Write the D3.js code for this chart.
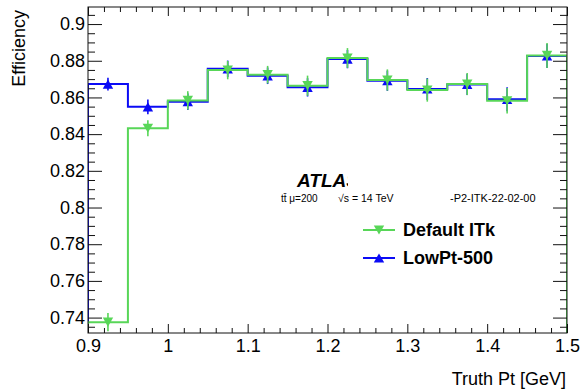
<!DOCTYPE html>
<html>
<head>
<meta charset="utf-8">
<script src="https://cdn.jsdelivr.net/npm/d3@7"></script>
<style>
  html, body { margin: 0; padding: 0; background: #fff; }
  svg { display: block; font-family: "Liberation Sans", Arial, Helvetica, sans-serif; }
</style>
</head>
<body>
<svg id="chart" width="581" height="392"></svg>
<script>
// Bin lower edges (Truth Pt, GeV), bin width 0.05
const binLow = [0.90, 0.95, 1.00, 1.05, 1.10, 1.15, 1.20, 1.25, 1.30, 1.35, 1.40, 1.45];
const binWidth = 0.05;

// Efficiency per bin: Default ITk
const defaultEff = [0.7375, 0.8432, 0.8584, 0.8749, 0.8724, 0.8664, 0.8815, 0.8695, 0.8640, 0.8673, 0.8582, 0.8829];
const defaultErr = [0.0050, 0.0044, 0.0050, 0.0050, 0.0048, 0.0055, 0.0054, 0.0058, 0.0063, 0.0060, 0.0070, 0.0068];

// Efficiency per bin: LowPt-500
const lowptEff = [0.8673, 0.8549, 0.8577, 0.8756, 0.8718, 0.8655, 0.8809, 0.8691, 0.8646, 0.8671, 0.8590, 0.8826];
const lowptErr = [0.0035, 0.0040, 0.0045, 0.0045, 0.0045, 0.0050, 0.0050, 0.0055, 0.0060, 0.0058, 0.0065, 0.0065];

// Axis ticks
const xMajor = [0.9, 1.0, 1.1, 1.2, 1.3, 1.4, 1.5];
const xLabels = ["0.9", "1", "1.1", "1.2", "1.3", "1.4", "1.5"];
const yMajor = [0.74, 0.76, 0.78, 0.80, 0.82, 0.84, 0.86, 0.88, 0.90];
const yLabels = ["0.74", "0.76", "0.78", "0.8", "0.82", "0.84", "0.86", "0.88", "0.9"];

const GREEN = "#58d658";
const BLUE = "#0b0bf5";

const svg = d3.select("#chart");
const L = 88, R = 567, T = 7, B = 333;

const x = d3.scaleLinear().domain([0.9, 1.5]).range([L, R]);
const y = d3.scaleLinear().domain([0.7316, 0.9093]).range([B, T]);

svg.append("defs").append("clipPath").attr("id", "plotclip")
  .append("rect").attr("x", L).attr("y", T).attr("width", R - L).attr("height", B - T);

// Histogram outline as a step path from the lower edge of the frame
function stepPath(vals) {
  const p = d3.path();
  p.moveTo(x(binLow[0]), y.range()[0]);
  vals.forEach((v, i) => {
    p.lineTo(x(binLow[i]), y(v));
    p.lineTo(x(binLow[i] + binWidth), y(v));
  });
  p.lineTo(x(binLow[binLow.length - 1] + binWidth), y.range()[0]);
  return p.toString();
}

const plot = svg.append("g").attr("clip-path", "url(#plotclip)");

function drawSeries(vals, errs, color, down) {
  plot.append("path").attr("d", stepPath(vals))
    .attr("fill", "none").attr("stroke", color).attr("stroke-width", 2);
  const g = plot.append("g");
  vals.forEach((v, i) => {
    const cx = x(binLow[i] + binWidth / 2);
    g.append("line")
      .attr("x1", cx).attr("x2", cx)
      .attr("y1", y(v + errs[i])).attr("y2", y(v - errs[i]))
      .attr("stroke", color).attr("stroke-width", 1.6);
  });
  vals.forEach((v, i) => {
    const cx = x(binLow[i] + binWidth / 2);
    g.append("path").attr("d", triangle(cx, y(v), down)).attr("fill", color);
  });
}

function triangle(cx, cy, down) {
  const w = 5.2, h = 4.6;
  if (down) return `M${cx - w},${cy - h}L${cx + w},${cy - h}L${cx},${cy + h}Z`;
  return `M${cx - w},${cy + h}L${cx + w},${cy + h}L${cx},${cy - h}Z`;
}

drawSeries(lowptEff, lowptErr, BLUE, false);
drawSeries(defaultEff, defaultErr, GREEN, true);

// Axes
const axisColor = "#111";
function styleAxis(g) {
  g.select(".domain").remove();
  g.selectAll(".tick line").attr("stroke", axisColor).attr("stroke-width", 1);
  g.selectAll("text").attr("fill", "#000").style("font-size", "18px")
    .style("font-family", '"Liberation Sans", Arial, Helvetica, sans-serif');
}

const xMinor = d3.range(0, 31).map(i => 0.9 + i * 0.02).filter(v => Math.abs((v - 0.9) / 0.1 - Math.round((v - 0.9) / 0.1)) > 1e-6);
const yMinor = d3.range(0, 36).map(i => 0.735 + i * 0.005).filter(v => v <= 0.909 && Math.abs(v / 0.02 - Math.round(v / 0.02)) > 1e-6);

// bottom
svg.append("g").attr("transform", `translate(0,${B})`)
  .call(d3.axisBottom(x).tickValues(xMajor).tickFormat((d, i) => xLabels[i]).tickSize(-9).tickPadding(6))
  .call(styleAxis);
svg.append("g").attr("transform", `translate(0,${B})`)
  .call(d3.axisBottom(x).tickValues(xMinor).tickFormat("").tickSize(-5))
  .call(styleAxis);
// top
svg.append("g").attr("transform", `translate(0,${T})`)
  .call(d3.axisTop(x).tickValues(xMajor).tickFormat("").tickSize(-9))
  .call(styleAxis);
svg.append("g").attr("transform", `translate(0,${T})`)
  .call(d3.axisTop(x).tickValues(xMinor).tickFormat("").tickSize(-5))
  .call(styleAxis);
// left
svg.append("g").attr("transform", `translate(${L},0)`)
  .call(d3.axisLeft(y).tickValues(yMajor).tickFormat((d, i) => yLabels[i]).tickSize(-14).tickPadding(3))
  .call(styleAxis);
svg.append("g").attr("transform", `translate(${L},0)`)
  .call(d3.axisLeft(y).tickValues(yMinor).tickFormat("").tickSize(-7))
  .call(styleAxis);
// right
svg.append("g").attr("transform", `translate(${R},0)`)
  .call(d3.axisRight(y).tickValues(yMajor).tickFormat("").tickSize(-14))
  .call(styleAxis);
svg.append("g").attr("transform", `translate(${R},0)`)
  .call(d3.axisRight(y).tickValues(yMinor).tickFormat("").tickSize(-7))
  .call(styleAxis);

// frame
svg.append("rect").attr("x", L).attr("y", T).attr("width", R - L).attr("height", B - T)
  .attr("fill", "none").attr("stroke", axisColor).attr("stroke-width", 1);
// the last histogram edge sits on the right frame line
plot.append("line").attr("x1", R).attr("x2", R).attr("y1", y(defaultEff[defaultEff.length - 1])).attr("y2", B)
  .attr("stroke", GREEN).attr("stroke-width", 2);

// Axis titles
svg.append("text").attr("transform", "translate(25,10) rotate(-90)")
  .attr("text-anchor", "end").style("font-size", "18px").text("Efficiency");
svg.append("text").attr("x", 566).attr("y", 385)
  .attr("text-anchor", "end").style("font-size", "18px").text("Truth Pt [GeV]");

// Experiment label (clipped box)
svg.select("defs").append("clipPath").attr("id", "atlasclip")
  .append("rect").attr("x", 280).attr("y", 160).attr("width", 68).attr("height", 40);
svg.append("text").attr("x", 297).attr("y", 187).attr("clip-path", "url(#atlasclip)")
  .style("font-size", "19px").style("font-weight", "bold").style("font-style", "italic")
  .text("ATLAS");
svg.append("text").attr("x", 281).attr("y", 202).style("font-size", "10px").text("t\u0074\u0304 \u03bc=200");
svg.append("text").attr("x", 338).attr("y", 202).style("font-size", "10.5px").text("\u221as = 14 TeV");
svg.append("text").attr("x", 450).attr("y", 202).style("font-size", "11px").text("-P2-ITK-22-02-00");

// Legend
const legend = [
  { name: "Default ITk", color: GREEN, down: true, yc: 230, base: 236 },
  { name: "LowPt-500", color: BLUE, down: false, yc: 258, base: 264 }
];
legend.forEach(e => {
  svg.append("line").attr("x1", 363).attr("x2", 395).attr("y1", e.yc).attr("y2", e.yc)
    .attr("stroke", e.color).attr("stroke-width", 2);
  svg.append("path").attr("d", triangle(379, e.yc, e.down)).attr("fill", e.color);
  svg.append("text").attr("x", 403).attr("y", e.base).style("font-size", "18px").style("font-weight", "bold").text(e.name);
});
</script>
</body>
</html>
